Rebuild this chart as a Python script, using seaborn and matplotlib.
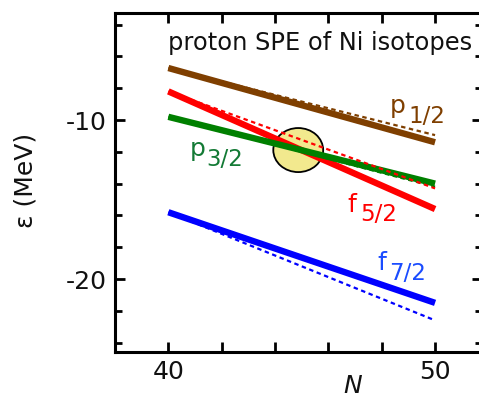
import matplotlib
matplotlib.use("Agg")
import matplotlib.pyplot as plt
from matplotlib.patches import Ellipse
from matplotlib.ticker import FixedLocator, MultipleLocator
import seaborn as sns
import pandas as pd

# ---- data ----
N = [40, 50]
orbitals = ["p1/2", "p3/2", "f5/2", "f7/2"]
solid_p12 = [-6.73, -11.4]
solid_p32 = [-9.8, -14.0]
solid_f52 = [-8.2, -15.6]
solid_f72 = [-15.8, -21.5]
dot_p12 = [-6.73, -10.95]
dot_p32 = [-9.8, -14.2]
dot_f52 = [-8.2, -14.3]
dot_f72 = [-15.8, -22.6]
label_main = ["p", "p", "f", "f"]
label_sub = ["1/2", "3/2", "5/2", "7/2"]
title_text = "proton SPE of Ni isotopes"

# label layout (data coords of main letter baseline, and pixel offsets of subscript)
label_pos_N = [48.31, 40.82, 46.7, 47.83]
label_pos_E = [-9.56, -12.26, -15.8, -19.43]
sub_offset_px = [(18, -10), (16, -10), (13, -9), (12, -10)]

colors = {"p1/2": "#7f3f00", "p3/2": "#008000", "f5/2": "#ff0000", "f7/2": "#0000ff"}
text_colors = {"p1/2": "#7f3f00", "p3/2": "#137a35", "f5/2": "#ff0000", "f7/2": "#1a4cff"}

solid = {"p1/2": solid_p12, "p3/2": solid_p32, "f5/2": solid_f52, "f7/2": solid_f72}
dotted = {"p1/2": dot_p12, "p3/2": dot_p32, "f5/2": dot_f52, "f7/2": dot_f72}

rows = []
for o in orbitals:
    for n, e in zip(N, solid[o]):
        rows.append(dict(N=n, E=e, orb=o, kind="solid"))
    for n, e in zip(N, dotted[o]):
        rows.append(dict(N=n, E=e, orb=o, kind="dotted"))
df = pd.DataFrame(rows)

sns.set_style("ticks")
plt.rcParams["font.family"] = ["DejaVu Sans"]

fig = plt.figure(figsize=(4.79, 3.98), dpi=100)
ax = fig.add_axes([115 / 479, 1 - 352 / 398, (482 - 115) / 479, (352 - 13) / 398])

ell = Ellipse((44.87, -11.89), 1.87, 2.77, facecolor="#f2e98e", edgecolor="black",
              linewidth=1.3, zorder=1)
ax.add_patch(ell)

for o in ["p1/2", "f7/2", "f5/2", "p3/2"]:
    sub = df[(df.orb == o) & (df.kind == "solid")]
    sns.lineplot(data=sub, x="N", y="E", ax=ax, color=colors[o], linewidth=4.6,
                 solid_capstyle="butt", zorder=3, legend=False)
for o in orbitals:
    sub = df[(df.orb == o) & (df.kind == "dotted")]
    sns.lineplot(data=sub, x="N", y="E", ax=ax, color=colors[o], linewidth=1.6,
                 linestyle=(0, (2, 1.6)), zorder=4, legend=False)

px2pt = 72 / 100
for o, m, s, xn, ye, off in zip(orbitals, label_main, label_sub, label_pos_N,
                                label_pos_E, sub_offset_px):
    ax.text(xn, ye, m, color=text_colors[o], fontsize=18, ha="left", va="baseline", zorder=5)
    ax.annotate(s, xy=(xn, ye), xytext=(off[0] * px2pt, off[1] * px2pt),
                textcoords="offset points", color=text_colors[o], fontsize=16.5,
                ha="left", va="baseline", zorder=5)

ax.text(39.97, -5.6, title_text, fontsize=17.4, ha="left", va="baseline", color="#111111")

ax.set_xlim(38.0, 40 + (482 - 168) / 26.7)
ax.set_ylim(-24.59, -3.27)
ax.xaxis.set_major_locator(FixedLocator([40, 50]))
ax.xaxis.set_minor_locator(MultipleLocator(2))
ax.yaxis.set_major_locator(FixedLocator([-10, -20]))
ax.yaxis.set_minor_locator(MultipleLocator(2))
ax.set_xticklabels(["40", "50"])
ax.set_yticklabels(["-10", "-20"])

ax.tick_params(axis="both", which="both", direction="in", top=True, right=True,
               width=2.0, labelsize=18, pad=6, color="black", labelcolor="#111111")
ax.tick_params(axis="x", which="both", length=7.5)
ax.tick_params(axis="y", which="major", length=7.5)
ax.tick_params(axis="y", which="minor", length=5)

for sp in ax.spines.values():
    sp.set_linewidth(2.2)
    sp.set_color("black")

ax.set_xlabel("N", fontsize=18, style="italic", color="#111111")
ax.xaxis.set_label_coords((353 - 115) / (482 - 115), -(386 - 352) / (352 - 13))
ax.xaxis.label.set_va("center")
ax.set_ylabel("ε (MeV)", fontsize=18, color="#111111")
ax.yaxis.set_label_coords(-(115 - 25) / (482 - 115), (352 - 180) / (352 - 13))
ax.yaxis.label.set_va("center")

fig.savefig("out.png", dpi=100)
